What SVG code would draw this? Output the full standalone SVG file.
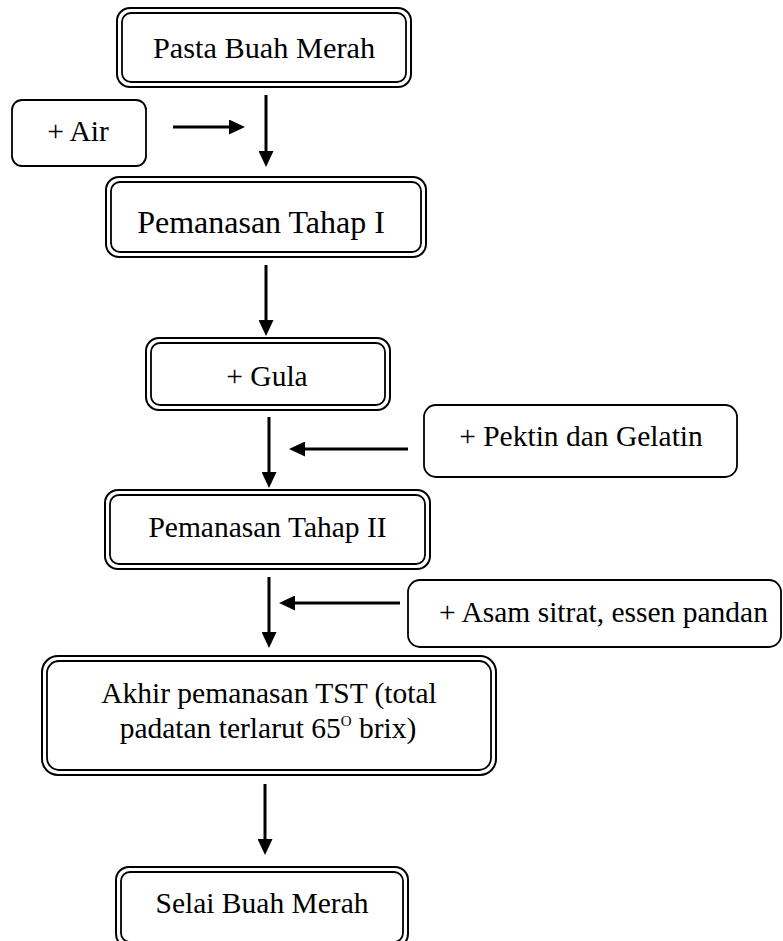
<svg xmlns="http://www.w3.org/2000/svg" width="783" height="941" viewBox="0 0 783 941">
<defs>
<style>
.o{fill:none;stroke:#000;stroke-width:2}
.i{fill:none;stroke:#000;stroke-width:1.8}
.s{fill:#fff;stroke:#000;stroke-width:1.8}
.t{font-family:"Liberation Serif","Times New Roman",serif;font-size:29.5px;fill:#000;text-anchor:middle}
.c{fill:none;stroke:#000;stroke-width:3}
</style>
<marker id="ah" markerUnits="userSpaceOnUse" markerWidth="16" markerHeight="15" refX="2" refY="7.5" orient="auto">
<path d="M0,0 L16,7.5 L0,15 z" fill="#000"/>
</marker>
</defs>
<rect width="783" height="941" fill="#fff"/>
<g id="pasta">
<rect class="o" x="117" y="8" width="294" height="79" rx="13"/>
<rect class="i" x="122" y="13" width="284" height="69" rx="9"/>
<text class="t" x="264" y="58" style="font-size:30.3px">Pasta Buah Merah</text>
</g>
<g id="air">
<rect class="s" x="12" y="100" width="134" height="66" rx="10"/>
<text class="t" x="78" y="141">+ Air</text>
</g>
<g id="tahap1">
<rect class="o" x="106" y="177" width="320" height="80" rx="13"/>
<rect class="i" x="111" y="182" width="310" height="70" rx="9"/>
<text class="t" x="261" y="233" style="font-size:32px">Pemanasan Tahap I</text>
</g>
<g id="gula">
<rect class="o" x="146" y="338" width="244" height="72" rx="13"/>
<rect class="i" x="151" y="343" width="234" height="62" rx="9"/>
<text class="t" x="267" y="386">+ Gula</text>
</g>
<g id="pektin">
<rect class="s" x="424" y="405" width="313" height="72" rx="12"/>
<text class="t" x="581" y="446">+ Pektin dan Gelatin</text>
</g>
<g id="tahap2">
<rect class="o" x="105" y="490" width="325" height="79" rx="13"/>
<rect class="i" x="110" y="495" width="315" height="69" rx="9"/>
<text class="t" x="267.5" y="537">Pemanasan Tahap II</text>
</g>
<g id="asam">
<rect class="s" x="408" y="580" width="373" height="67" rx="12"/>
<text class="t" x="603.5" y="622">+ Asam sitrat, essen pandan</text>
</g>
<g id="akhir">
<rect class="o" x="42" y="656" width="454" height="119" rx="16"/>
<rect class="i" x="47" y="661" width="444" height="109" rx="12"/>
<text class="t" x="269" y="703">Akhir pemanasan TST (total</text>
<text class="t" x="268" y="738">padatan terlarut 65<tspan dy="-12" style="font-size:15px">O</tspan><tspan dy="12"> brix)</tspan></text>
</g>
<g id="selai">
<rect class="o" x="116" y="867" width="292" height="80" rx="13"/>
<rect class="i" x="121" y="872" width="282" height="70" rx="9"/>
<text class="t" x="262" y="913">Selai Buah Merah</text>
</g>
<g id="connectors">
<path class="c" d="M266,95 V153" marker-end="url(#ah)"/>
<path class="c" d="M173,127 H231" marker-end="url(#ah)"/>
<path class="c" d="M266,265 V322" marker-end="url(#ah)"/>
<path class="c" d="M269,417 V474" marker-end="url(#ah)"/>
<path class="c" d="M408,449 H303" marker-end="url(#ah)"/>
<path class="c" d="M269,577 V634" marker-end="url(#ah)"/>
<path class="c" d="M400,603 H293" marker-end="url(#ah)"/>
<path class="c" d="M265,784 V841" marker-end="url(#ah)"/>
</g>
</svg>
